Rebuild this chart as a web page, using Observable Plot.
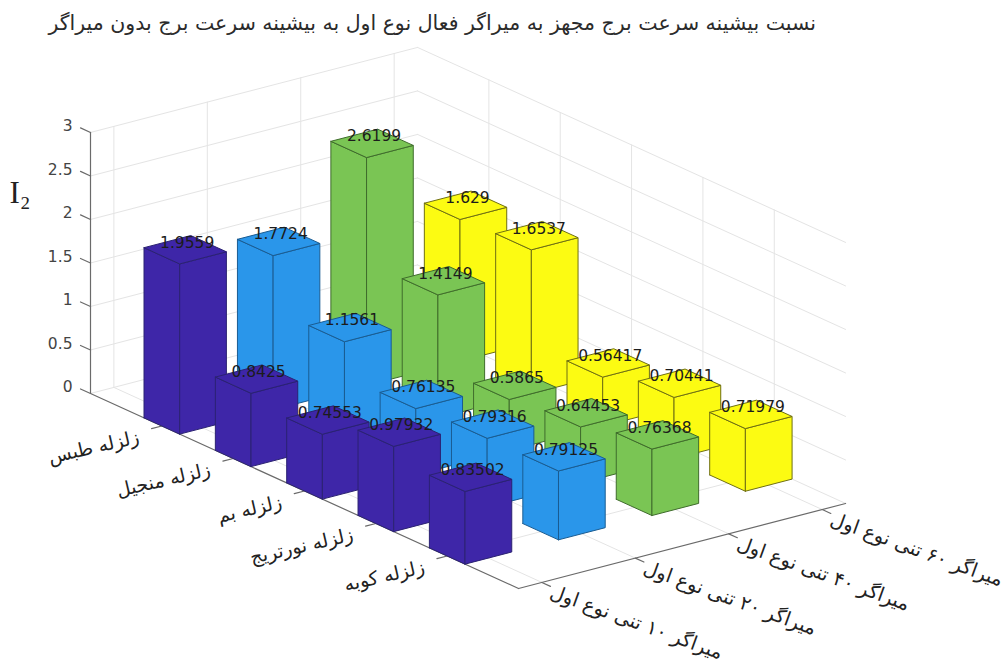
<!DOCTYPE html>
<html lang="fa">
<head>
<meta charset="utf-8">
<script src="https://cdn.jsdelivr.net/npm/d3@7"></script>
<script src="https://cdn.jsdelivr.net/npm/@observablehq/plot@0.6"></script>
<style>
  html, body { margin: 0; background: #fff; }
  #title {
    box-sizing: border-box; width: 816px; height: 40px;
    direction: rtl; text-align: right; white-space: nowrap;
    font: 20.5px/47px "DejaVu Sans", sans-serif; color: #2b2b2b;
  }
  svg { display: block; }
</style>
</head>
<body>
<div id="title">نسبت بیشینه سرعت برج مجهز به میراگر فعال نوع اول به بیشینه سرعت برج بدون میراگر</div>
<div id="chart"></div>
<script>
// Earthquake records along one floor axis, damper cases along the other.
const quakes = ["زلزله طبس", "زلزله منجیل", "زلزله بم", "زلزله نورتریج", "زلزله کوبه"];
const dampers = ["میراگر ۱۰ تنی نوع اول", "میراگر ۲۰ تنی نوع اول", "میراگر ۴۰ تنی نوع اول", "میراگر ۶۰ تنی نوع اول"];
const damper10 = [1.9559, 0.8425, 0.74553, 0.97932, 0.83502];
const damper20 = [1.7724, 1.1561, 0.76135, 0.79316, 0.79125];
const damper40 = [2.6199, 1.4149, 0.5865, 0.64453, 0.76368];
const damper60 = [1.629, 1.6537, 0.56417, 0.70441, 0.71979];
const seriesValues = [damper10, damper20, damper40, damper60];
const valueTicks = [0, 0.5, 1, 1.5, 2, 2.5, 3];
const fills = ["#3E26A8", "#2A96EA", "#7AC554", "#FCFB12"];
const edges = ["#2B2272", "#1A5C92", "#3F6C2C", "#6F6F12"];

// Extent of the 3D box and half-width of a bar.
const xMin = 0, xMax = 6, yMin = 0.75, yMax = 4.25, zMax = 3, half = 0.25;

// Orthographic view: every 3D point becomes a pair of plot coordinates,
// with the vertical one expressed in units of the value axis.
const u = (x, y) => 0.82 * x + 1.074 * (y - yMin);
const v = (x, y, z) => z - 0.3736 * x + 0.2793 * (y - yMin);
const pt = (x, y, z, group) => ({px: u(x, y), py: v(x, y, z), group});

// Turn a list of 3D corners into a closed ring of plot coordinates.
const ring = (group, corners) =>
  [...corners, corners[0]].map(([x, y, z]) => pt(x, y, z, group));

// Three visible faces of each bar, one polygon per face.
function barFaces(series) {
  const s = series + 1;
  return seriesValues[series].flatMap((value, i) => {
    const x = i + 1, x0 = x - half, x1 = x + half, y0 = s - half, y1 = s + half;
    return [
      ...ring(`${s}-${x}-left`, [[x0, y0, 0], [x1, y0, 0], [x1, y0, value], [x0, y0, value]]),
      ...ring(`${s}-${x}-right`, [[x1, y0, 0], [x1, y1, 0], [x1, y1, value], [x1, y0, value]]),
      ...ring(`${s}-${x}-top`, [[x0, y0, value], [x1, y0, value], [x1, y1, value], [x0, y1, value]])
    ];
  });
}

// Two-point segments for the grid on the floor and the two back walls.
const seg = (group, a, b) => [pt(...a, group), pt(...b, group)];
const xTicks = quakes.map((_, i) => i + 1);
const yTicks = dampers.map((_, i) => i + 1);
const grid = [
  ...valueTicks.flatMap(z => [
    ...seg(`wall-x-${z}`, [xMin, yMin, z], [xMin, yMax, z]),
    ...seg(`wall-y-${z}`, [xMin, yMax, z], [xMax, yMax, z])
  ]),
  ...xTicks.flatMap(x => [
    ...seg(`floor-x-${x}`, [x, yMin, 0], [x, yMax, 0]),
    ...seg(`up-x-${x}`, [x, yMax, 0], [x, yMax, zMax])
  ]),
  ...yTicks.flatMap(y => [
    ...seg(`floor-y-${y}`, [xMin, y, 0], [xMax, y, 0]),
    ...seg(`up-y-${y}`, [xMin, y, 0], [xMin, y, zMax])
  ])
];

const axes = [
  ...seg("axis-z", [xMin, yMin, 0], [xMin, yMin, zMax]),
  ...seg("axis-x", [xMin, yMin, 0], [xMax, yMin, 0]),
  ...seg("axis-y", [xMax, yMin, 0], [xMax, yMax, 0]),
  ...valueTicks.flatMap(z => seg(`tick-z-${z}`, [xMin, yMin, z], [xMin - 0.14, yMin, z])),
  ...xTicks.flatMap(x => seg(`tick-x-${x}`, [x, yMin, 0], [x, yMin - 0.11, 0])),
  ...yTicks.flatMap(y => seg(`tick-y-${y}`, [xMax, y, 0], [xMax + 0.12, y, 0]))
];

const valueLabels = seriesValues.flatMap((values, series) =>
  values.map((value, i) => ({...pt(i + 1, series + 1, value), text: String(value)})));
const font = "DejaVu Sans, sans-serif";

// Far rows are painted first so nearer bars cover them.
const barMarks = d3.range(seriesValues.length - 1, -1, -1).map(series =>
  Plot.line(barFaces(series), {
    x: "px", y: "py", z: "group",
    fill: fills[series], stroke: edges[series],
    strokeWidth: 1, strokeLinejoin: "round", curve: "linear"
  }));

const chart = Plot.plot({
  width: 1005, height: 624, margin: 0,
  x: {domain: [-1.0345, 10.517], axis: null},
  y: {domain: [-3.115, 4.057], axis: null},
  marks: [
    Plot.line(grid, {x: "px", y: "py", z: "group", stroke: "#e4e4e4", strokeWidth: 1}),
    Plot.line(axes, {x: "px", y: "py", z: "group", stroke: "#6a6a6a", strokeWidth: 1.2}),
    ...barMarks,
    Plot.text(valueLabels, {
      x: "px", y: "py", text: "text", dx: 2, dy: -7,
      fontSize: 15.5, fontFamily: font, fill: "#1c1c1c"
    }),
    Plot.text(valueTicks, {
      x: () => u(xMin, yMin), y: z => v(xMin, yMin, z), text: z => String(z),
      dx: -18, dy: -6, textAnchor: "end", fontSize: 15.5, fontFamily: font, fill: "#444"
    }),
    Plot.text(["I₂"], {
      x: () => u(xMin, yMin), y: () => v(xMin, yMin, 2.3), dx: -81,
      textAnchor: "start", fontSize: 31, fontFamily: "Liberation Serif, serif", fill: "#222"
    }),
    Plot.text(quakes, {
      x: (_, i) => u(i + 1, yMin), y: (_, i) => v(i + 1, yMin, 0), text: d => d,
      dx: -23, dy: 11, rotate: -13, textAnchor: "end", fontSize: 19, fontFamily: font, fill: "#222"
    }),
    Plot.text(dampers, {
      x: (_, i) => u(xMax, i + 1), y: (_, i) => v(xMax, i + 1, 0), text: d => d,
      dx: 9, dy: 9, rotate: 20, textAnchor: "start", fontSize: 19.5, fontFamily: font, fill: "#222"
    })
  ]
});
document.getElementById("chart").append(chart);
</script>
</body>
</html>
